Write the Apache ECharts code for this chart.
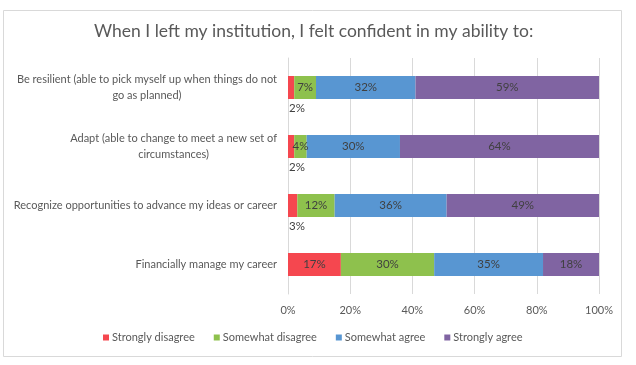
<!DOCTYPE html>
<html><head><meta charset="utf-8">
<script src="https://cdn.jsdelivr.net/npm/echarts@6/dist/echarts.min.js"></script>
<style>html,body{margin:0;padding:0;background:#fff}#c{width:636px;height:365px}</style>
</head><body><div id="c"></div>
<script>
const title = 'When I left my institution, I felt confident in my ability to:';
const categories = [
  'Be resilient (able to pick myself up when things do not go as planned)',
  'Adapt (able to change to meet a new set of circumstances)',
  'Recognize opportunities to advance my ideas or career',
  'Financially manage my career'
];
const seriesNames = ['Strongly disagree', 'Somewhat disagree', 'Somewhat agree', 'Strongly agree'];
const stronglyDisagree = [2, 2, 3, 17];
const somewhatDisagree = [7, 4, 12, 30];
const somewhatAgree = [32, 30, 36, 35];
const stronglyAgree = [59, 64, 49, 18];
const xTicks = [0, 20, 40, 60, 80, 100];

const colors = ['#F5474F', '#8EC14D', '#5896D2', '#8064A2'];
const values = [stronglyDisagree, somewhatDisagree, somewhatAgree, stronglyAgree];
const FONT = 'Lato';

function wrap(s, n) {
  const words = s.split(' '); const lines = []; let cur = '';
  words.forEach(w => {
    if (cur && (cur + ' ' + w).length > n) { lines.push(cur); cur = w; }
    else cur = cur ? cur + ' ' + w : w;
  });
  if (cur) lines.push(cur);
  return lines.map(l => '{a|' + l + '}').join('\n');
}

const series = seriesNames.map((name, i) => ({
  name, type: 'bar', stack: 'total', barWidth: 23,
  itemStyle: { color: colors[i] },
  label: { show: true, position: 'inside', formatter: '{c}%', color: '#404040', fontSize: 11.5, fontFamily: FONT },
  data: values[i].map(v => (i === 0 && v < 5) ? {
    value: v,
    label: { position: [1, '100%'], align: 'left', verticalAlign: 'top', offset: [0, 3] }
  } : v)
}));

const chart = echarts.init(document.getElementById('c'), null, { renderer: 'canvas' });
chart.setOption({
  animation: false,
  backgroundColor: '#fff',
  color: colors,
  graphic: [{ type: 'rect', shape: { x: 3.5, y: 10.5, width: 618, height: 346 },
    style: { fill: 'none', stroke: '#d9d9d9', lineWidth: 1 }, silent: true, z: -1 }],
  title: { text: title, left: 89, top: 17,
    textStyle: { fontFamily: FONT, fontSize: 17.5, fontWeight: 'normal', color: '#595959' } },
  legend: { bottom: 17, left: 98, itemWidth: 6, itemHeight: 6, itemGap: 19, icon: 'rect',
    textStyle: { fontFamily: FONT, fontSize: 11, color: '#595959', padding: [0, 0, 0, -2] } },
  grid: { left: 288, right: 37, top: 58, bottom: 71, containLabel: false },
  xAxis: { type: 'value', min: 0, max: 100, interval: 20,
    axisLabel: { formatter: v => xTicks.includes(v) ? v + '%' : '', color: '#595959', fontSize: 11, fontFamily: FONT, margin: 11 },
    splitLine: { lineStyle: { color: '#d9d9d9' } },
    axisLine: { show: false }, axisTick: { show: false } },
  yAxis: { type: 'category', data: categories, inverse: true,
    axisLine: { show: true, lineStyle: { color: '#d9d9d9' } }, axisTick: { show: false },
    axisLabel: { margin: 11, formatter: v => wrap(v, 55), color: '#595959',
      rich: { a: { align: 'center', fontSize: 11, fontFamily: FONT, color: '#595959', lineHeight: 16 } } } },
  series
});
</script></body></html>
